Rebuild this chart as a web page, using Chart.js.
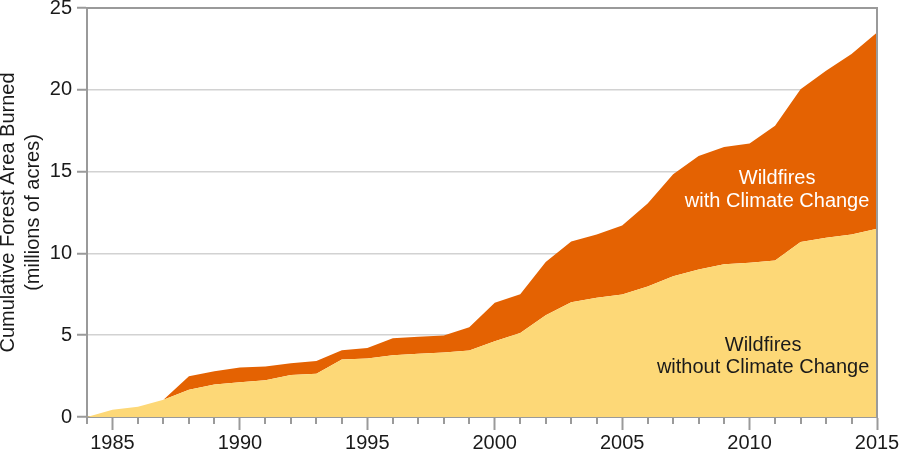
<!DOCTYPE html>
<html lang="en">
<head>
  <meta charset="UTF-8">
  <title>Cumulative Forest Area Burned</title>
  <script src="https://cdn.jsdelivr.net/npm/chart.js@4.4.1/dist/chart.umd.min.js"></script>
  <style>
    html, body { margin: 0; padding: 0; background: #fff; }
    .chart-container { width: 900px; height: 453px; }
  </style>
</head>
<body>
  <div class="chart-container">
    <canvas id="myChart"></canvas>
  </div>

  <script>
    // years on the x axis
    const years = [1984, 1985, 1986, 1987, 1988, 1989, 1990, 1991, 1992, 1993, 1994, 1995,
      1996, 1997, 1998, 1999, 2000, 2001, 2002, 2003, 2004, 2005, 2006, 2007,
      2008, 2009, 2010, 2011, 2012, 2013, 2014, 2015]

    // cumulative area without climate change (millions of acres)
    const withoutClimate = [0, 0.45, 0.63, 1.05, 1.67, 1.98, 2.12, 2.24, 2.57, 2.65, 3.51, 3.57,
      3.77, 3.86, 3.94, 4.06, 4.63, 5.14, 6.22, 7.02, 7.29, 7.49, 7.98, 8.61,
      9.02, 9.33, 9.43, 9.57, 10.69, 10.96, 11.16, 11.51]

    // cumulative area with climate change (total, millions of acres)
    const withClimate = [0, 0.45, 0.63, 1.05, 2.49, 2.8, 3.02, 3.08, 3.28, 3.43, 4.08, 4.22,
      4.81, 4.9, 4.98, 5.49, 6.98, 7.51, 9.47, 10.72, 11.16, 11.7, 13.05, 14.84,
      15.96, 16.51, 16.72, 17.8, 20.04, 21.16, 22.19, 23.5]

    const yTicks = [0, 5, 10, 15, 20, 25]
    const xLabelYears = [1985, 1990, 1995, 2000, 2005, 2010, 2015]

    const FONT = 'Liberation Sans, Arial, Helvetica, sans-serif'
    const SIZE = 20
    const AXIS = '#9a9a9a'

    // frame, minor x ticks and the two area labels
    const extras = {
      id: 'extras',
      afterDraw(chart) {
        const {ctx, chartArea: a, scales: {x, y}} = chart
        ctx.save()
        ctx.strokeStyle = AXIS
        ctx.lineWidth = 2
        ctx.beginPath()
        ctx.moveTo(a.left, a.top)
        ctx.lineTo(a.right, a.top)
        ctx.lineTo(a.right, a.bottom)
        ctx.stroke()

        years.forEach(yr => {
          if (xLabelYears.includes(yr)) return
          const px = Math.round(x.getPixelForValue(yr))
          ctx.beginPath()
          ctx.moveTo(px, a.bottom)
          ctx.lineTo(px, a.bottom + 7)
          ctx.stroke()
        })

        ctx.font = SIZE + 'px ' + FONT
        ctx.textAlign = 'center'
        ctx.textBaseline = 'middle'
        ctx.fillStyle = '#ffffff'
        ctx.fillText('Wildfires', x.getPixelForValue(2011.08), y.getPixelForValue(14.6))
        ctx.fillText('with Climate Change', x.getPixelForValue(2011.08), y.getPixelForValue(13.2))
        ctx.fillStyle = '#1a1a1a'
        ctx.fillText('Wildfires', x.getPixelForValue(2010.53), y.getPixelForValue(4.4))
        ctx.fillText('without Climate Change', x.getPixelForValue(2010.53), y.getPixelForValue(3.0))
        ctx.restore()
      }
    }

    const ctx = document.getElementById('myChart').getContext('2d')
    const myChart = new Chart(ctx, {
      type: 'line',
      data: {
        labels: years,
        datasets: [{
          label: 'Wildfires without Climate Change',
          data: years.map((yr, i) => ({x: yr, y: withoutClimate[i]})),
          backgroundColor: 'rgb(253, 216, 119)',
          borderWidth: 0,
          pointRadius: 0,
          fill: 'origin',
          tension: 0
        }, {
          label: 'Wildfires with Climate Change',
          data: years.map((yr, i) => ({x: yr, y: withClimate[i]})),
          backgroundColor: 'rgb(228, 98, 2)',
          borderWidth: 0,
          pointRadius: 0,
          fill: '-1',
          tension: 0
        }]
      },
      options: {
        responsive: true,
        maintainAspectRatio: false,
        animation: false,
        layout: { padding: { top: 8, right: 23, left: 0, bottom: 0 } },
        plugins: {
          legend: { display: false },
          tooltip: { enabled: false }
        },
        scales: {
          x: {
            type: 'linear',
            min: 1984,
            max: 2015,
            afterFit(scale) {
              scale.height = 36
              scale.paddingLeft = 0
              scale.paddingRight = 0
            },
            afterBuildTicks(scale) { scale.ticks = years.map(v => ({value: v})) },
            border: { color: AXIS, width: 2 },
            grid: {
              drawOnChartArea: false,
              tickLength: 13,
              tickWidth: 2,
              tickColor: c => xLabelYears.includes(c.tick && c.tick.value) ? AXIS : 'rgba(0,0,0,0)'
            },
            ticks: {
              autoSkip: false,
              maxRotation: 0,
              padding: 1,
              color: '#1a1a1a',
              font: { family: FONT, size: SIZE },
              callback: v => xLabelYears.includes(v) ? String(v) : ''
            }
          },
          y: {
            min: 0,
            max: 25,
            afterFit(scale) {
              scale.width = 87
              scale.paddingTop = 0
              scale.paddingBottom = 0
            },
            afterBuildTicks(scale) { scale.ticks = yTicks.map(v => ({value: v})) },
            border: { color: AXIS, width: 2 },
            grid: {
              color: c => c.tick && c.tick.value === 25 ? AXIS : '#d2d2d2',
              lineWidth: 1.5,
              tickLength: 10,
              tickWidth: 2,
              tickColor: AXIS
            },
            ticks: {
              padding: 5,
              color: '#1a1a1a',
              font: { family: FONT, size: SIZE }
            },
            title: {
              display: true,
              text: ['Cumulative Forest Area Burned', '(millions of acres)'],
              color: '#1a1a1a',
              font: { family: FONT, size: SIZE, lineHeight: '25px' },
              padding: { top: -4, bottom: 0 }
            }
          }
        }
      },
      plugins: [extras]
    })
  </script>
</body>
</html>
